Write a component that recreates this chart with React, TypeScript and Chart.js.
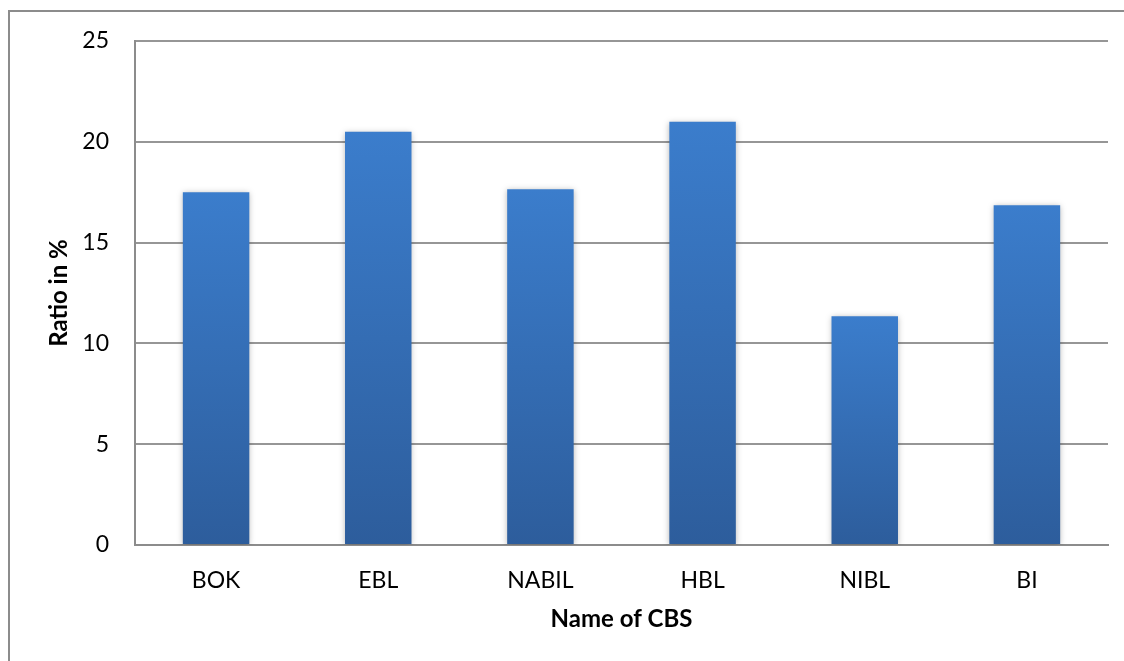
import React, { useEffect, useRef } from "react";
import { Chart, registerables } from "chart.js";

Chart.register(...registerables);

const categories = ["BOK", "EBL", "NABIL", "HBL", "NIBL", "BI"];
const ratioValues = [17.5, 20.5, 17.65, 21.0, 11.35, 16.85];
const yTicks = [0, 5, 10, 15, 20, 25];

const FONT = "Lato, 'Liberation Sans', sans-serif";

const shadowPlugin = {
  id: "barShadow",
  beforeDatasetsDraw(chart: any) {
    const ctx = chart.ctx;
    ctx.save();
    ctx.shadowColor = "rgba(0,0,0,0.28)";
    ctx.shadowBlur = 6;
    ctx.shadowOffsetX = 0;
    ctx.shadowOffsetY = 1;
  },
  afterDatasetsDraw(chart: any) {
    chart.ctx.restore();
  },
};

export default function App() {
  const ref = useRef<HTMLCanvasElement | null>(null);

  useEffect(() => {
    if (!ref.current) return;
    const chart = new Chart(ref.current, {
      type: "bar",
      data: {
        labels: categories,
        datasets: [
          {
            data: ratioValues,
            barPercentage: 0.41,
            categoryPercentage: 1,
            borderWidth: 0,
            backgroundColor: (c: any) => {
              const ch = c.chart;
              const ys = ch.scales && ch.scales.y;
              if (!ys || c.parsed == null || c.parsed.y == null) return "#3a7acb";
              const top = ys.getPixelForValue(c.parsed.y);
              const bottom = ys.getPixelForValue(0);
              if (!isFinite(top) || !isFinite(bottom) || top === bottom) return "#3a7acb";
              const g = ch.ctx.createLinearGradient(0, top, 0, bottom);
              g.addColorStop(0, "#3b7dcc");
              g.addColorStop(1, "#2d5d9c");
              return g;
            },
          },
        ],
      },
      options: {
        animation: false,
        responsive: false,
        maintainAspectRatio: false,
        layout: { padding: { top: 41, right: 16, bottom: 20, left: 10 } },
        plugins: {
          legend: { display: false },
          tooltip: { enabled: false },
        },
        scales: {
          x: {
            grid: { display: false, drawTicks: false },
            border: { display: true, color: "#8c8c8c", width: 2 },
            ticks: {
              color: "#000",
              padding: 22,
              font: { family: FONT, size: 23 },
            },
            title: {
              display: true,
              text: "Name of CBS",
              color: "#000",
              font: { family: FONT, size: 24, weight: "bold" },
              padding: { top: 8, bottom: 7 },
            },
            afterFit: (s: any) => {
              s.height = 96;
            },
          },
          y: {
            min: 0,
            max: 25,
            afterBuildTicks: (s: any) => {
              s.ticks = yTicks.map((v) => ({ value: v }));
            },
            grid: { color: "#969696", lineWidth: 2, drawTicks: false },
            border: { display: true, color: "#8c8c8c", width: 2 },
            ticks: {
              color: "#000",
              padding: 26,
              font: { family: FONT, size: 23 },
            },
            title: {
              display: true,
              text: "Ratio in %",
              color: "#000",
              font: { family: FONT, size: 24, weight: "bold" },
              padding: { top: 35, bottom: 0 },
            },
            afterFit: (s: any) => {
              s.width = 125;
            },
          },
        },
      },
      plugins: [shadowPlugin],
    } as any);
    return () => chart.destroy();
  }, []);

  return (
    <div style={{ position: "fixed", left: 0, top: 0, width: 1124, height: 661, overflow: "hidden", background: "#fff" }}>
      <div
        style={{
          position: "absolute",
          left: 8,
          top: 10,
          width: 1200,
          height: 700,
          border: "2px solid #8c8c8c",
          boxSizing: "border-box",
        }}
      />
      <canvas ref={ref} width={1124} height={661} style={{ position: "absolute", left: 0, top: 0, width: 1124, height: 661 }} />
    </div>
  );
}
